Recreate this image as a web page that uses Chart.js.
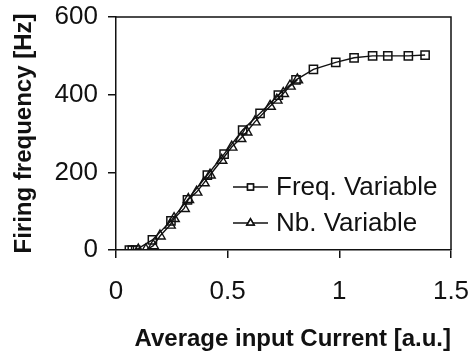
<!DOCTYPE html>
<html>
<head>
<meta charset="utf-8">
<script src="https://cdn.jsdelivr.net/npm/chart.js@4.4.0/dist/chart.umd.min.js"></script>
<style>
html,body{margin:0;padding:0;background:#fff;}
#wrap{width:468px;height:351px;position:relative;}
</style>
</head>
<body>
<div id="wrap"><canvas id="c" width="468" height="351"></canvas></div>
<script>
const seriesNames = ['Freq. Variable', 'Nb. Variable'];
const freqX = [0.060, 0.073, 0.088, 0.163, 0.246, 0.320, 0.409, 0.484, 0.567, 0.645, 0.727, 0.806, 0.884, 0.984, 1.066, 1.149, 1.217, 1.309, 1.384];
const freqY = [0, 0, 0, 26, 75, 129, 193, 247, 309, 352, 399, 438, 465, 483, 495, 500, 500, 500, 502];
const nbX = [0.100, 0.134, 0.167, 0.197, 0.242, 0.260, 0.305, 0.324, 0.361, 0.394, 0.421, 0.473, 0.518, 0.558, 0.585, 0.622, 0.690, 0.720, 0.749, 0.779, 0.812];
const nbY = [0, 0, 11, 36, 64, 81, 107, 130, 149, 173, 193, 231, 265, 287, 304, 330, 370, 386, 403, 422, 438];
const xTicks = [0, 0.5, 1, 1.5];
const yTicks = [0, 200, 400, 600];

const FONT = 'Arial, "Liberation Sans", sans-serif';
const INK = '#111';

const borderBox = {
  id: 'borderBox',
  afterDraw(chart) {
    const {ctx, chartArea: a} = chart;
    ctx.save();
    ctx.strokeStyle = INK;
    ctx.lineWidth = 1.5;
    ctx.beginPath();
    ctx.moveTo(a.left, a.top);
    ctx.lineTo(a.right, a.top);
    ctx.lineTo(a.right, a.bottom);
    ctx.stroke();
    ctx.restore();
  }
};

const innerLegend = {
  id: 'innerLegend',
  afterDraw(chart) {
    const {ctx} = chart;
    const rows = [187, 223];
    const x0 = 233, x1 = 268, tx = 276;
    ctx.save();
    chart.data.datasets.forEach((ds, i) => {
      const y = rows[i];
      ctx.strokeStyle = INK;
      ctx.lineWidth = 1.5;
      ctx.beginPath();
      ctx.moveTo(x0, y); ctx.lineTo(x1, y); ctx.stroke();
      Chart.helpers.drawPoint(ctx, {pointStyle: ds.pointStyle, radius: 4.2, borderWidth: 1.3}, (x0 + x1) / 2, y);
      ctx.fillStyle = '#fff';
      ctx.fill();
      ctx.stroke();
      ctx.fillStyle = INK;
      ctx.font = '26px ' + FONT;
      ctx.textBaseline = 'middle';
      ctx.textAlign = 'left';
      ctx.fillText(ds.label, tx, y + 1);
    });
    ctx.restore();
  }
};

const mk = (xa, ya) => xa.map((v, i) => ({x: v, y: ya[i]}));

new Chart(document.getElementById('c'), {
  type: 'scatter',
  data: {
    datasets: [
      {
        label: seriesNames[0],
        data: mk(freqX, freqY),
        showLine: true,
        borderColor: INK,
        borderWidth: 1.4,
        pointStyle: 'rect',
        pointRadius: 5.8,
        pointBorderWidth: 1.5,
        pointBackgroundColor: 'rgba(255,255,255,0)',
        pointBorderColor: INK
      },
      {
        label: seriesNames[1],
        data: mk(nbX, nbY),
        showLine: true,
        borderColor: INK,
        borderWidth: 1.4,
        pointStyle: 'triangle',
        pointRadius: 6,
        pointBorderWidth: 1.4,
        pointBackgroundColor: 'rgba(255,255,255,0)',
        pointBorderColor: INK
      }
    ]
  },
  options: {
    responsive: false,
    animation: false,
    devicePixelRatio: 1,
    layout: {padding: {top: 17, right: 17, left: 0, bottom: 0}},
    plugins: {legend: {display: false}, tooltip: {enabled: false}},
    scales: {
      x: {
        type: 'linear',
        min: 0, max: 1.5,
        afterBuildTicks: s => { s.ticks = xTicks.map(v => ({value: v})); },
        afterFit: s => { s.height = 101; s.paddingLeft = 0; s.paddingRight = 0; },
        grid: {drawOnChartArea: false, drawTicks: true, tickLength: 8, color: INK, lineWidth: 1.5},
        border: {display: true, color: INK, width: 1.5},
        ticks: {color: INK, font: {family: FONT, size: 26}, padding: 18, maxRotation: 0,
                callback: v => String(v)},
        title: {display: true, text: 'Average input Current [a.u.]', color: INK, align: 'end',
                font: {family: FONT, size: 24, weight: 'bold', lineHeight: 1.0}, padding: {top: 0, bottom: 0}}
      },
      y: {
        type: 'linear',
        min: 0, max: 600,
        afterBuildTicks: s => { s.ticks = yTicks.map(v => ({value: v})); },
        afterFit: s => { s.width = 116; s.paddingTop = 0; s.paddingBottom = 0; },
        grid: {drawOnChartArea: false, drawTicks: true, tickLength: 8, color: INK, lineWidth: 1.5},
        border: {display: true, color: INK, width: 1.5},
        ticks: {color: INK, font: {family: FONT, size: 26}, padding: 10,
                callback: v => String(v)},
        title: {display: true, text: 'Firing frequency [Hz]', color: INK,
                font: {family: FONT, size: 24, weight: 'bold'}, padding: {top: 10, bottom: 0}}
      }
    }
  },
  plugins: [borderBox, innerLegend]
});
</script>
</body>
</html>
